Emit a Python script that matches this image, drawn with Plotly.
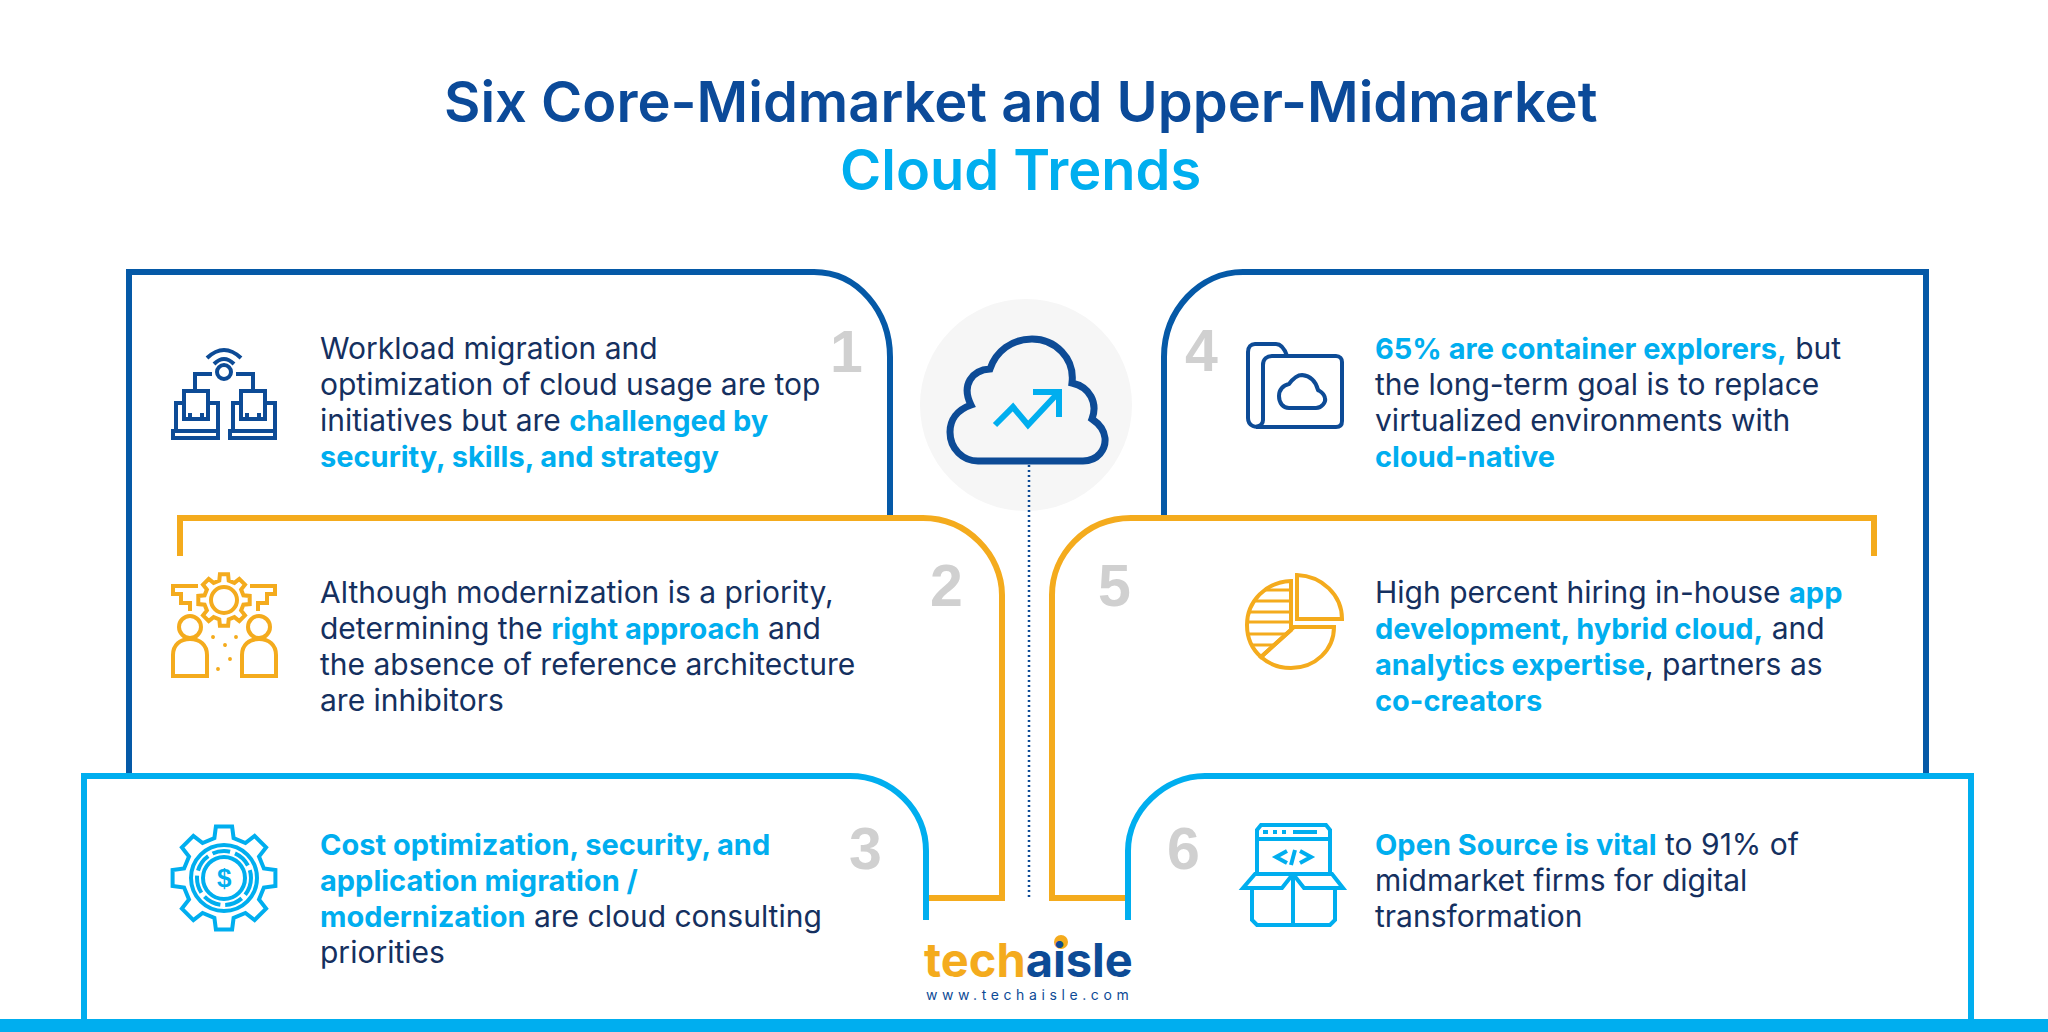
import math

import plotly.graph_objects as go

WIDTH = 2048
HEIGHT = 1032

DARK = "#0559a7"
ICON_DARK = "#0d4b96"
ORANGE = "#f4ab1d"
LIGHT = "#00aeef"
INK = "#15305f"
GREY = "#d0d0d0"

FONT = "Inter"


def hl(text):
    return f'<span style="color:{LIGHT};font-size:29px"><b>{text}</b></span>'


TITLE_TOP = "Six Core-Midmarket and Upper-Midmarket"
TITLE_BOTTOM = "Cloud Trends"

TEXT_1 = [
    "Workload migration and",
    "optimization of cloud usage are top",
    "initiatives but are " + hl("challenged by"),
    hl("security, skills, and strategy"),
]
TEXT_2 = [
    "Although modernization is a priority,",
    "determining the " + hl("right approach") + " and",
    "the absence of reference architecture",
    "are inhibitors",
]
TEXT_3 = [
    hl("Cost optimization, security, and"),
    hl("application migration /"),
    hl("modernization") + " are cloud consulting",
    "priorities",
]
TEXT_4 = [
    hl("65% are container explorers,") + " but",
    "the long-term goal is to replace",
    "virtualized environments with",
    hl("cloud-native"),
]
TEXT_5 = [
    "High percent hiring in-house " + hl("app"),
    hl("development, hybrid cloud,") + " and",
    hl("analytics expertise") + ", partners as",
    hl("co-creators"),
]
TEXT_6 = [
    hl("Open Source is vital") + " to 91% of",
    "midmarket firms for digital",
    "transformation",
]

# (lines, left x, y of first line)
TEXT_BLOCKS = [
    (TEXT_1, 318, 348),
    (TEXT_2, 318, 592),
    (TEXT_3, 318, 844),
    (TEXT_4, 1373, 348),
    (TEXT_5, 1373, 592),
    (TEXT_6, 1373, 844),
]
LINE_STEP = 36

NUMBERS = ["1", "2", "3", "4", "5", "6"]
NUMBER_X = [846, 946, 865, 1201, 1114, 1183]
NUMBER_Y = [352, 586, 849, 351, 586, 849]

LOGO_LEFT = "tech"
LOGO_RIGHT = "aisle"
LOGO_URL = "www.techaisle.com"

fig = go.Figure()


def path(d, color, width=6, fill=None, dash=None):
    line = dict(color=color, width=width)
    if dash:
        line["dash"] = dash
    fig.add_shape(
        type="path",
        path=d,
        xref="x",
        yref="y",
        line=line,
        fillcolor=fill if fill else "rgba(0,0,0,0)",
        layer="above",
    )


def circle(cx, cy, r, color, width=4, fill=None, dash=None):
    line = dict(color=color, width=width)
    if dash:
        line["dash"] = dash
    fig.add_shape(
        type="circle",
        x0=cx - r,
        x1=cx + r,
        y0=cy - r,
        y1=cy + r,
        xref="x",
        yref="y",
        line=line,
        fillcolor=fill if fill else "rgba(0,0,0,0)",
        layer="above",
    )


def poly(points, close=False):
    d = "M" + " L".join(f"{x:.1f},{y:.1f}" for x, y in points)
    return d + " Z" if close else d


def gear_path(cx, cy, outer, inner, teeth):
    pts = []
    step = 2 * math.pi / teeth
    for i in range(teeth):
        a = i * step - math.pi / 2
        for da, r in [
            (-0.30, inner),
            (-0.20, outer),
            (0.20, outer),
            (0.30, inner),
        ]:
            pts.append((cx + r * math.cos(a + da * step), cy + r * math.sin(a + da * step)))
    return poly(pts, close=True)


# panels, back to front
path("M129,776 L129,272 L814,272 C858,272 890,312 890,357 L890,518", DARK)
path("M1164,518 L1164,357 C1164,310 1200,272 1243,272 L1926,272 L1926,776", DARK)
path("M180,556 L180,518 L923,518 C967,518 1002,555 1002,595 L1002,898 L929,898", ORANGE)
path("M1874,556 L1874,518 L1131,518 C1085,518 1052,555 1052,595 L1052,898 L1128,898", ORANGE)
path("M926,920 L926,851 C926,810 892,776 850,776 L84,776 L84,1019", LIGHT)
path("M1128,920 L1128,851 C1128,810 1165,776 1205,776 L1971,776 L1971,1019", LIGHT)
fig.add_shape(
    type="rect", x0=0, x1=WIDTH, y0=1019, y1=HEIGHT, xref="x", yref="y",
    fillcolor=LIGHT, line=dict(width=0),
)

# centre cloud
circle(1026, 405, 106, "#f6f6f6", width=0, fill="#f6f6f6")
path(
    "M978,461 L1083,461 C1098,461 1106,449 1105,438 C1104,429 1098,423 1092,419 "
    "C1098,403 1090,387 1072,383 C1075,358 1055,339 1032,339 C1012,339 996,351 990,369 "
    "C972,370 961,385 971,405 C957,410 950,420 950,432 C950,449 963,461 978,461 Z",
    ICON_DARK,
    width=7,
)
path(poly([(995,425), (1013,407), (1028,425), (1057,394)]), LIGHT, width=6)
path(poly([(1033,392), (1059,392), (1059,417)]), LIGHT, width=6)
fig.add_shape(
    type="line", x0=1029, x1=1029, y0=465, y1=898, xref="x", yref="y",
    line=dict(color=ICON_DARK, width=2.5, dash="2px 3px"), layer="above",
)

# icon 1, two laptops on wifi
ICON_W = 4
path("M207,358 Q224,342 241,358", ICON_DARK, ICON_W)
path("M214,364 Q224,354 234,364", ICON_DARK, ICON_W)
circle(224, 372, 7, ICON_DARK, ICON_W)
path(poly([(212,374), (195,374), (195,391)]), ICON_DARK, ICON_W)
path(poly([(236,374), (253,374), (253,391)]), ICON_DARK, ICON_W)
for dx in (0, 57):
    path(poly([(184+dx,403), (176+dx,403), (176+dx,431), (218+dx,431), (218+dx,403), (208+dx,403)]), ICON_DARK, ICON_W)
    path(poly([(184+dx,391), (208+dx,391), (208+dx,419), (184+dx,419)], close=True), ICON_DARK, ICON_W)
    path(poly([(190+dx,413), (190+dx,419), (202+dx,419), (202+dx,413)]), ICON_DARK, ICON_W)
    path(poly([(173+dx,431), (218+dx,431), (218+dx,438), (173+dx,438)], close=True), ICON_DARK, ICON_W)

# icon 2, people and gear
path(gear_path(224, 600, 26, 20, 8), ORANGE, ICON_W)
circle(224, 600, 13, ORANGE, ICON_W)
path(poly([(198,586), (173,586), (173,594), (181,594), (181,603), (190,603), (190,611)]), ORANGE, ICON_W)
path(poly([(250,586), (275,586), (275,594), (267,594), (267,603), (258,603), (258,611)]), ORANGE, ICON_W)
for cx in (190, 259):
    circle(cx, 627, 11, ORANGE, ICON_W)
    path(
        f"M{cx-17},676 L{cx-17},655 C{cx-17},645 {cx-10},639 {cx},639 "
        f"C{cx+10},639 {cx+17},645 {cx+17},655 L{cx+17},676 Z",
        ORANGE,
        ICON_W,
    )
for x, y in [(213,637), (236,637), (225,645), (230,659), (218,669)]:
    circle(x, y, 1.2, ORANGE, 1.5, ORANGE)

# icon 3, gear with a coin
path(gear_path(224, 878, 52, 41, 8), LIGHT, ICON_W)
circle(224, 878, 33, LIGHT, ICON_W)
circle(224, 878, 21, LIGHT, ICON_W)
circle(224, 878, 27, LIGHT, 4, dash="18px 5px")
fig.add_annotation(
    x=224, y=878, text="<b>$</b>", showarrow=False, xref="x", yref="y",
    font=dict(family="Liberation Sans", size=26, color=LIGHT),
)

# icon 4, folder with a cloud
path(
    "M1263,425 C1256,429 1248,426 1248,418 L1248,352 C1248,347 1251,344 1255,344 "
    "L1276,344 C1282,344 1285,350 1287,356",
    ICON_DARK, ICON_W,
)
path(
    "M1272,356 L1336,356 C1340,356 1342,359 1342,362 L1342,421 C1342,425 1340,427 1336,427 "
    "L1256,427 C1261,426 1263,423 1263,420 L1263,365 C1263,359 1267,356 1272,356 Z",
    ICON_DARK, ICON_W,
)
path(
    "M1289,408 L1316,408 C1322,408 1326,402 1325,398 C1324,393 1321,392 1318,390 "
    "C1316,382 1311,376 1302,375 C1296,375 1292,380 1289,384 C1283,385 1279,390 1279,396 "
    "C1279,403 1283,408 1289,408 Z",
    ICON_DARK, ICON_W,
)

# icon 5, pie with a hatched slice
PIE_X, PIE_Y, PIE_R = 1291, 625, 44
path("M1297,575 C1322,576 1342,595 1342,619 L1297,619 Z", ORANGE, ICON_W)
path("M1291,581 C1266,582 1247,601 1247,625 C1247,638 1252,649 1261,657 L1291,630 Z", ORANGE, ICON_W)
path("M1298,627 L1334,627 C1334,650 1315,668 1291,668 C1280,668 1269,664 1261,657 L1294,627 Z", ORANGE, ICON_W)
for y in [590, 601, 612, 622, 634, 645]:
    half = math.sqrt(PIE_R ** 2 - (y - PIE_Y) ** 2)
    end = PIE_X if y <= 627 else PIE_X - (y - 630) * 30 / 27
    path(poly([(PIE_X - half, y), (end, y)]), ORANGE, 3)

# icon 6, browser coming out of a box
path(poly([(1257,873), (1257,830), (1261,825), (1326,825), (1330,830), (1330,873)]), LIGHT, ICON_W)
path(poly([(1257,839), (1330,839)]), LIGHT, ICON_W)
path(poly([(1263,832), (1268,832)]), LIGHT, ICON_W)
path(poly([(1273,832), (1277,832)]), LIGHT, ICON_W)
path(poly([(1282,832), (1286,832)]), LIGHT, ICON_W)
path(poly([(1293,832), (1317,832)]), LIGHT, ICON_W)
path(poly([(1287,851), (1276,857), (1287,863)]), LIGHT, ICON_W)
path(poly([(1300,851), (1311,857), (1300,863)]), LIGHT, ICON_W)
path(poly([(1295,850), (1291,865)]), LIGHT, ICON_W)
path(poly([(1293,874), (1282,888), (1243,888), (1255,874), (1332,874), (1343,888), (1304,888), (1293,874)]), LIGHT, ICON_W)
path(poly([(1252,888), (1252,920), (1257,925), (1330,925), (1335,920), (1335,888)]), LIGHT, ICON_W)
path(poly([(1293,874), (1293,925)]), LIGHT, ICON_W)

# title
fig.add_annotation(
    x=1020, y=102, text=TITLE_TOP, showarrow=False, xref="x", yref="y",
    font=dict(family=FONT, size=56, color="#0b4a99", weight=600),
)
fig.add_annotation(
    x=1020, y=170, text=TITLE_BOTTOM, showarrow=False, xref="x", yref="y",
    font=dict(family=FONT, size=56, color=LIGHT, weight=600),
)

# body text, one annotation per line
for lines, x0, y0 in TEXT_BLOCKS:
    for i, line in enumerate(lines):
        fig.add_annotation(
            x=x0, y=y0 + i * LINE_STEP, text=line, showarrow=False,
            xref="x", yref="y", xanchor="left", align="left",
            font=dict(family=FONT, size=30, color=INK),
        )

for n, x, y in zip(NUMBERS, NUMBER_X, NUMBER_Y):
    fig.add_annotation(
        x=x, y=y, text=f"<b>{n}</b>", showarrow=False, xref="x", yref="y",
        font=dict(family="Liberation Sans", size=59, color=GREY),
    )

# logo
fig.add_annotation(
    x=1028, y=959,
    text=f'<b><span style="color:{ORANGE}">{LOGO_LEFT}</span>'
    f'<span style="color:{ICON_DARK}">{LOGO_RIGHT}</span></b>',
    showarrow=False, xref="x", yref="y",
    font=dict(family=FONT, size=47),
)
circle(1061, 942, 7, ORANGE, width=0, fill=ORANGE)
fig.add_annotation(
    x=1029, y=994, text=LOGO_URL, showarrow=False, xref="x", yref="y",
    font=dict(family=FONT, size=14, color=ICON_DARK),
)

fig.update_layout(
    width=WIDTH,
    height=HEIGHT,
    margin=dict(l=0, r=0, t=0, b=0),
    paper_bgcolor="white",
    plot_bgcolor="white",
    showlegend=False,
)
fig.update_xaxes(range=[0, WIDTH], visible=False, fixedrange=True)
fig.update_yaxes(range=[HEIGHT, 0], visible=False, fixedrange=True)

# the url in the logo is letter spaced, plotly has no option for that
post = """
document.body.style.margin='0';document.body.style.overflow='hidden';
document.querySelectorAll('.annotation-text').forEach(function(t){
  if(t.textContent==='www.techaisle.com'){t.style.letterSpacing='4.6px';}
});
"""

fig.write_html("out.html", config=dict(displayModeBar=False), post_script=post)
